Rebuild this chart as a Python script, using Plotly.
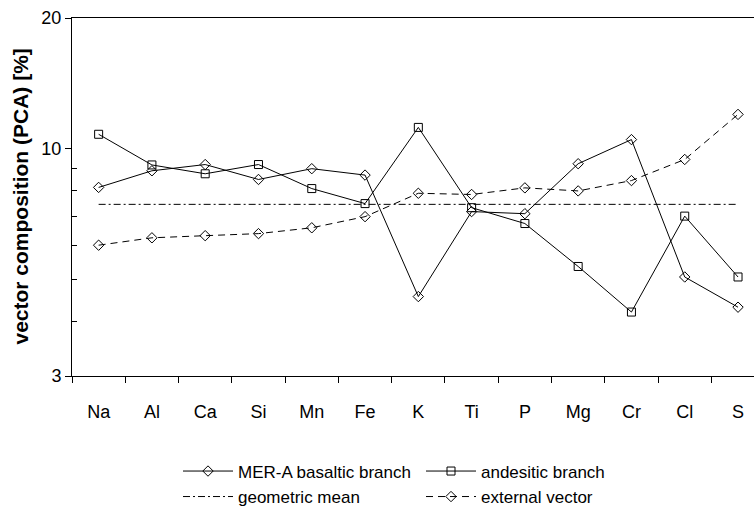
import math
import plotly.graph_objects as go

elements = ["Na", "Al", "Ca", "Si", "Mn", "Fe", "K", "Ti", "P", "Mg", "Cr", "Cl", "S"]
basaltic = [8.15, 8.9, 9.2, 8.5, 9.0, 8.7, 4.57, 7.17, 7.09, 9.24, 10.5, 5.07, 4.32]
andesitic = [10.8, 9.18, 8.76, 9.2, 8.1, 7.48, 11.2, 7.32, 6.73, 5.36, 4.21, 7.0, 5.07]
geo_mean_value = 7.45
geo_mean = [geo_mean_value] * len(elements)
external = [6.0, 6.24, 6.31, 6.38, 6.58, 6.98, 7.9, 7.85, 8.13, 8.0, 8.45, 9.45, 12.0]

ytick_vals = [3, 10, 20]
yminor_vals = [4, 5, 6, 7, 8, 9]

W, H = 754, 515
ML, MT, MB, MR = 72, 18, 132, 0
plot_w = W - ML - MR
plot_h = H - MT - MB

fig = go.Figure()
line_style = dict(color="black", width=1)
fig.add_trace(go.Scatter(
    x=elements, y=basaltic, mode="lines+markers", name="MER-A basaltic branch",
    line=line_style, marker=dict(symbol="diamond-open", size=8, color="black", line=dict(width=1)),
    legend="legend"))
fig.add_trace(go.Scatter(
    x=elements, y=andesitic, mode="lines+markers", name="andesitic branch",
    line=line_style, marker=dict(symbol="square-open", size=8, color="black", line=dict(width=1)),
    legend="legend"))
fig.add_trace(go.Scatter(
    x=elements, y=geo_mean, mode="lines", name="geometric mean",
    line=dict(color="black", width=1, dash="7px,3px,2px,3px"),
    legend="legend2"))
fig.add_trace(go.Scatter(
    x=elements, y=external, mode="lines+markers", name="external vector",
    line=dict(color="black", width=1, dash="7px,5px"),
    marker=dict(symbol="diamond-open", size=8, color="black", line=dict(width=1)),
    legend="legend2"))

font_family = "Liberation Sans, Arial, sans-serif"

def px_to_paper_x(px):
    return (px - ML) / plot_w

def px_to_paper_y(py):
    return (H - MB - py) / plot_h

legend_common = dict(
    orientation="h", xanchor="left", yanchor="top",
    font=dict(family=font_family, size=17, color="black"),
    entrywidth=178, entrywidthmode="pixels", itemwidth=50,
    bgcolor="rgba(0,0,0,0)", borderwidth=0, itemclick=False, itemdoubleclick=False,
)

fig.update_layout(
    width=W, height=H,
    margin=dict(l=ML, r=MR, t=MT, b=MB, pad=0),
    paper_bgcolor="white", plot_bgcolor="white",
    font=dict(family=font_family, color="black"),
    showlegend=True,
    legend=dict(x=px_to_paper_x(178), y=px_to_paper_y(462), **legend_common),
    legend2=dict(x=px_to_paper_x(178), y=px_to_paper_y(488), **legend_common),
    xaxis=dict(
        type="category", range=[-0.5, 12.3],
        showline=True, linecolor="black", linewidth=1, mirror=True,
        ticks="outside", ticklen=6, tickcolor="black", tickson="boundaries",
        showgrid=False, zeroline=False, ticklabelstandoff=19,
        tickfont=dict(family=font_family, size=18, color="black"),
    ),
    yaxis=dict(
        type="log", range=[math.log10(3), math.log10(20)],
        showline=True, linecolor="black", linewidth=1,
        tickmode="array", tickvals=ytick_vals, ticktext=[str(v) for v in ytick_vals],
        ticks="outside", ticklen=6, tickcolor="black",
        minor=dict(tickmode="array", tickvals=yminor_vals, ticks="inside", ticklen=5, tickcolor="black", showgrid=False),
        showgrid=False, zeroline=False,
        tickfont=dict(family=font_family, size=18, color="black"),
    ),
    annotations=[dict(
        text="<b>vector composition (PCA) [%]</b>", textangle=-90,
        xref="paper", yref="paper", x=px_to_paper_x(21), y=px_to_paper_y(200),
        xanchor="center", yanchor="middle", showarrow=False,
        font=dict(family=font_family, size=21, color="black"),
    )],
)

fig.write_html("out.html")
